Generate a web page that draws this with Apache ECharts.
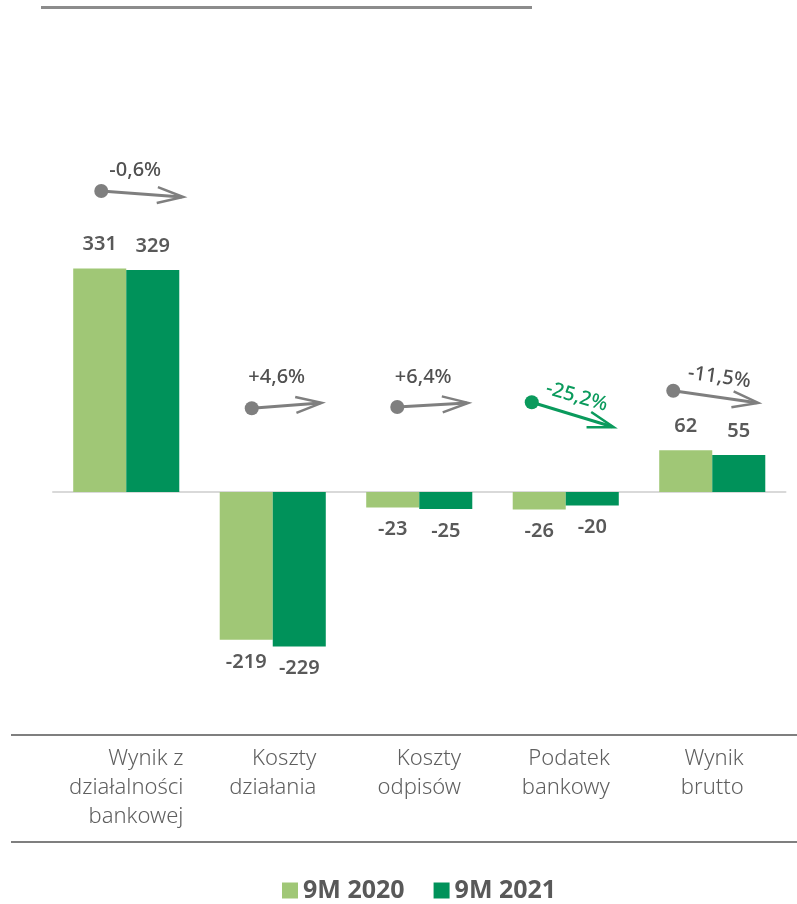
<!DOCTYPE html>
<html>
<head>
<meta charset="utf-8">
<script src="https://cdn.jsdelivr.net/npm/echarts@6/dist/echarts.min.js"></script>
<style>
  html, body { margin: 0; padding: 0; background: #ffffff; }
  #chart { width: 797px; height: 904px; }
</style>
</head>
<body>
<div id="chart"></div>
<script>
// ---- data ----
const categories = ['Wynik z\ndziałalności\nbankowej', 'Koszty\ndziałania', 'Koszty\nodpisów', 'Podatek\nbankowy', 'Wynik\nbrutto'];
const seriesNames = ['9M 2020', '9M 2021'];
const values2020 = [331, -219, -23, -26, 62];
const values2021 = [329, -229, -25, -20, 55];
const changeLabels = ['-0,6%', '+4,6%', '+6,4%', '-25,2%', '-11,5%'];

// ---- annotation layout (value-axis levels + pixel offsets) ----
const arrowStartLevel = [446, 124, 126, 133, 150];
const arrowEndLevel   = [437, 132, 132, 96, 132];
const arrowTextLevel  = [476, 170, 170, 141, 170];
const arrowStartDx = [-25, -21, -22, -34, -39];
const arrowEndDx   = [57, 49, 49, 48, 46];
const arrowTextDx  = [9, 4, 4, 11, 7];
const arrowTextRot = [0, 0, 0, -16, -8];
const arrowHighlight = [false, false, false, true, false];

const LIGHT = '#a0c776';
const DARK = '#00925a';
const GRAY_ARROW = '#7f7f7f';
const GREEN_ARROW = '#0a9a5c';
const TEXT = '#595959';

const chart = echarts.init(document.getElementById('chart'), null, { renderer: 'canvas' });

function barData(vals) {
  return vals.map(v => ({
    value: v,
    label: { position: v < 0 ? 'bottom' : 'top', distance: v < 0 ? 12 : 14 }
  }));
}

const arrowData = categories.map((c, i) => [i, arrowStartLevel[i], arrowEndLevel[i], arrowTextLevel[i]]);

const option = {
  backgroundColor: '#ffffff',
  animation: false,
  grid: { left: 53, right: 11.5, top: 154.5, bottom: 209.5, containLabel: false },
  legend: {
    data: seriesNames,
    left: 277,
    top: 873,
    icon: 'rect',
    itemWidth: 16,
    itemHeight: 16,
    itemGap: 29,
    textStyle: { fontFamily: 'Noto Sans', fontSize: 25, fontWeight: 'bold', color: TEXT, padding: [0, 0, 0, 0] }
  },
  xAxis: [
    {
      type: 'category',
      data: categories,
      axisLine: { show: true, onZero: true, lineStyle: { color: '#d9d9d9', width: 2 } },
      axisTick: { show: false },
      axisLabel: { show: false },
      splitLine: { show: false }
    },
    {
      type: 'category',
      data: categories,
      position: 'bottom',
      axisLine: { show: false },
      axisTick: { show: false },
      splitLine: { show: false },
      axisLabel: {
        show: true,
        interval: 0,
        margin: 50,
        align: 'center',
        formatter: v => v.split('\n').map(s => '{r|' + s + '}').join('\n'),
        rich: {
          r: { align: 'right', fontFamily: 'Noto Sans', fontWeight: 300, fontSize: 22, lineHeight: 29, color: '#5f5f5f' }
        }
      }
    }
  ],
  yAxis: {
    type: 'value',
    min: -300,
    max: 500,
    show: false,
    splitLine: { show: false }
  },
  series: [
    {
      name: seriesNames[0],
      type: 'bar',
      xAxisIndex: 0,
      data: barData(values2020),
      barGap: '0%',
      barCategoryGap: '27.6%',
      itemStyle: { color: LIGHT },
      label: { show: true, fontFamily: 'Noto Sans', fontSize: 20, fontWeight: 600, color: TEXT }
    },
    {
      name: seriesNames[1],
      type: 'bar',
      xAxisIndex: 0,
      data: barData(values2021),
      barGap: '0%',
      barCategoryGap: '27.6%',
      itemStyle: { color: DARK },
      label: { show: true, fontFamily: 'Noto Sans', fontSize: 20, fontWeight: 600, color: TEXT }
    },
    {
      name: 'arrows',
      type: 'custom',
      xAxisIndex: 0,
      silent: true,
      clip: false,
      z: 10,
      encode: { x: 0, y: 1 },
      data: arrowData,
      renderItem: function (params, api) {
        const i = api.value(0);
        const col = arrowHighlight[i] ? GREEN_ARROW : GRAY_ARROW;
        const txtCol = arrowHighlight[i] ? GREEN_ARROW : '#505050';
        const p0 = api.coord([i, api.value(1)]);
        const p1 = api.coord([i, api.value(2)]);
        const pt = api.coord([i, api.value(3)]);
        const x0 = p0[0] + arrowStartDx[i], y0 = p0[1];
        const x1 = p1[0] + arrowEndDx[i], y1 = p1[1];
        const ang = Math.atan2(y1 - y0, x1 - x0);
        const c = Math.cos(ang), s = Math.sin(ang);
        const back = 26, half = 8;
        const bx = x1 - back * c, by = y1 - back * s;
        const w1 = [bx - half * s, by + half * c];
        const w2 = [bx + half * s, by - half * c];
        return {
          type: 'group',
          children: [
            { type: 'line', shape: { x1: x0, y1: y0, x2: x1 - 1.5 * c, y2: y1 - 1.5 * s }, style: { stroke: col, lineWidth: 3 } },
            { type: 'polyline', shape: { points: [w1, [x1, y1], w2] }, style: { stroke: col, lineWidth: 2.5, fill: null, lineJoin: 'miter' } },
            { type: 'circle', shape: { cx: x0, cy: y0, r: 7 }, style: { fill: col } },
            {
              type: 'text',
              x: pt[0] + arrowTextDx[i],
              y: pt[1],
              rotation: arrowTextRot[i] * Math.PI / 180,
              style: {
                text: changeLabels[i],
                fill: txtCol,
                fontFamily: 'Noto Sans',
                fontSize: 20,
                fontWeight: 500,
                align: 'center',
                verticalAlign: 'middle'
              }
            }
          ]
        };
      }
    }
  ],
  graphic: [
    { type: 'line', shape: { x1: 41, y1: 7.5, x2: 532, y2: 7.5 }, style: { stroke: '#8c8c8c', lineWidth: 3 } },
    { type: 'line', shape: { x1: 11, y1: 735, x2: 797, y2: 735 }, style: { stroke: '#7f7f7f', lineWidth: 2 } },
    { type: 'line', shape: { x1: 11, y1: 842, x2: 797, y2: 842 }, style: { stroke: '#7f7f7f', lineWidth: 2 } }
  ]
};

chart.setOption(option);
</script>
</body>
</html>
